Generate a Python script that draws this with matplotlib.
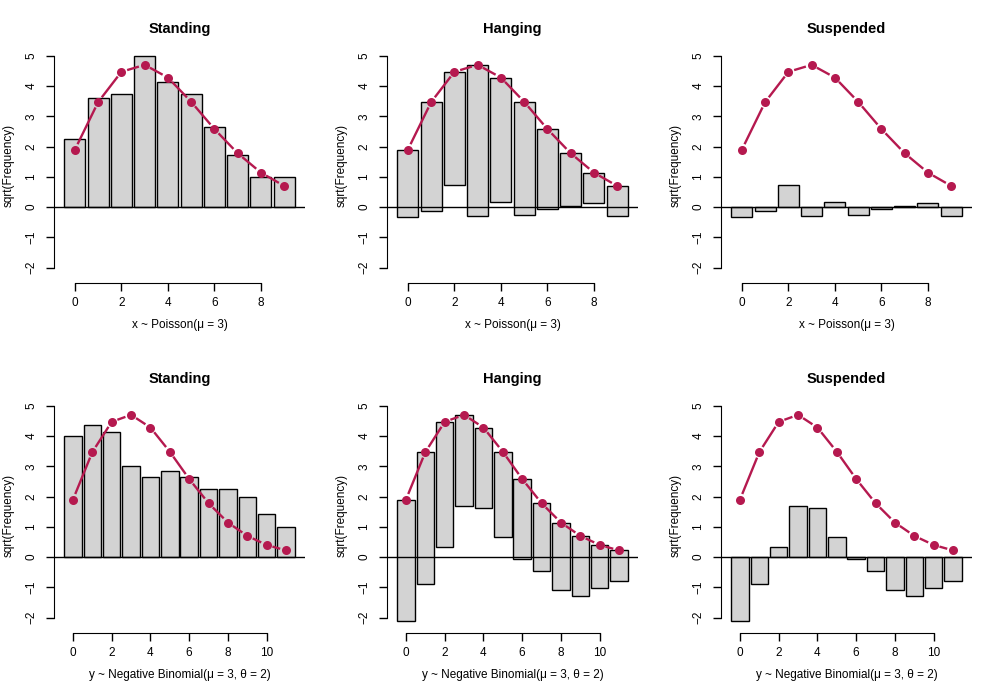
import numpy as np
import matplotlib.pyplot as plt

plt.rcParams['font.family'] = ['Liberation Sans', 'DejaVu Sans']

# observed sqrt frequencies
pois_x = [0, 1, 2, 3, 4, 5, 6, 7, 8, 9]
pois_obs = [2.236, 3.606, 3.742, 5.0, 4.123, 3.742, 2.646, 1.732, 1.0, 1.0]
pois_exp = [1.90, 3.47, 4.47, 4.70, 4.28, 3.48, 2.58, 1.78, 1.14, 0.70]

nb_x = [0, 1, 2, 3, 4, 5, 6, 7, 8, 9, 10, 11]
nb_obs = [4.0, 4.359, 4.123, 3.0, 2.646, 2.828, 2.646, 2.236, 2.236, 2.0, 1.414, 1.0]
nb_exp = [1.90, 3.47, 4.47, 4.70, 4.28, 3.48, 2.58, 1.78, 1.14, 0.70, 0.40, 0.22]

styles = ['Standing', 'Hanging', 'Suspended']
xlabels = ['x ~ Poisson(\u03bc = 3)', 'y ~ Negative Binomial(\u03bc = 3, \u03b8 = 2)']
xticks = [[0, 2, 4, 6, 8], [0, 2, 4, 6, 8, 10]]

red = '#B5194F'
W, H = 1000, 700
fig = plt.figure(figsize=(10, 7), dpi=100)

lefts = [54, 387, 721]
bottoms = [283, 633]
rows = [(pois_x, pois_obs, pois_exp), (nb_x, nb_obs, nb_exp)]


def gapped_line(ax, xs, ys, gap=6):
    # like R type="b": segments stop short of the points
    pts = ax.transData.transform(np.column_stack([xs, ys]))
    inv = ax.transData.inverted()
    for a, b in zip(pts[:-1], pts[1:]):
        d = b - a
        L = np.hypot(*d)
        if L <= 2 * gap:
            continue
        u = d / L
        seg = inv.transform(np.array([a + u * gap, b - u * gap]))
        ax.plot(seg[:, 0], seg[:, 1], color=red, linewidth=1.7,
                solid_capstyle='butt', zorder=4)


for r, (xs, obs, exp) in enumerate(rows):
    for c, style in enumerate(styles):
        ax = fig.add_axes([lefts[c] / W, 1 - bottoms[r] / H, 251 / W, 236 / H])
        if style == 'Standing':
            bot = [0] * len(xs)
            hgt = obs
        elif style == 'Hanging':
            bot = [e - o for e, o in zip(exp, obs)]
            hgt = obs
        else:
            bot = [0] * len(xs)
            hgt = [e - o for e, o in zip(exp, obs)]
        ax.bar(xs, hgt, bottom=bot, width=0.9, color='#D3D3D3',
               edgecolor='black', linewidth=1.0, zorder=2)
        ax.axhline(0, color='black', linewidth=1.0, zorder=3)
        n = len(xs)
        pad = 0.04 * n
        ax.set_xlim(-0.5 - pad, n - 0.5 + pad)
        ax.set_ylim(-2.51, 5.29)
        gapped_line(ax, xs, exp)
        ax.plot(xs, exp, 'o', color=red, markersize=6.5,
                markeredgewidth=0, zorder=6)
        for s in ['top', 'right']:
            ax.spines[s].set_visible(False)
        ax.spines['left'].set_bounds(-2, 5)
        ax.spines['bottom'].set_bounds(xticks[r][0], xticks[r][-1])
        ax.set_yticks(range(-2, 6))
        ax.set_yticklabels([str(v).replace('-', '\u2212') for v in range(-2, 6)],
                           rotation=90, va='center')
        ax.set_xticks(xticks[r])
        ax.tick_params(length=6, width=1, labelsize=8.5, color='black')
        ax.tick_params(axis='y', pad=6)
        ax.tick_params(axis='x', pad=4)
        ax.set_title(style, fontsize=10.5, fontweight='bold', pad=10)
        ax.set_xlabel(xlabels[r], fontsize=8.5, labelpad=7)
        ax.set_ylabel('sqrt(Frequency)', fontsize=8.5, labelpad=8)

fig.savefig('out.png', dpi=100)
